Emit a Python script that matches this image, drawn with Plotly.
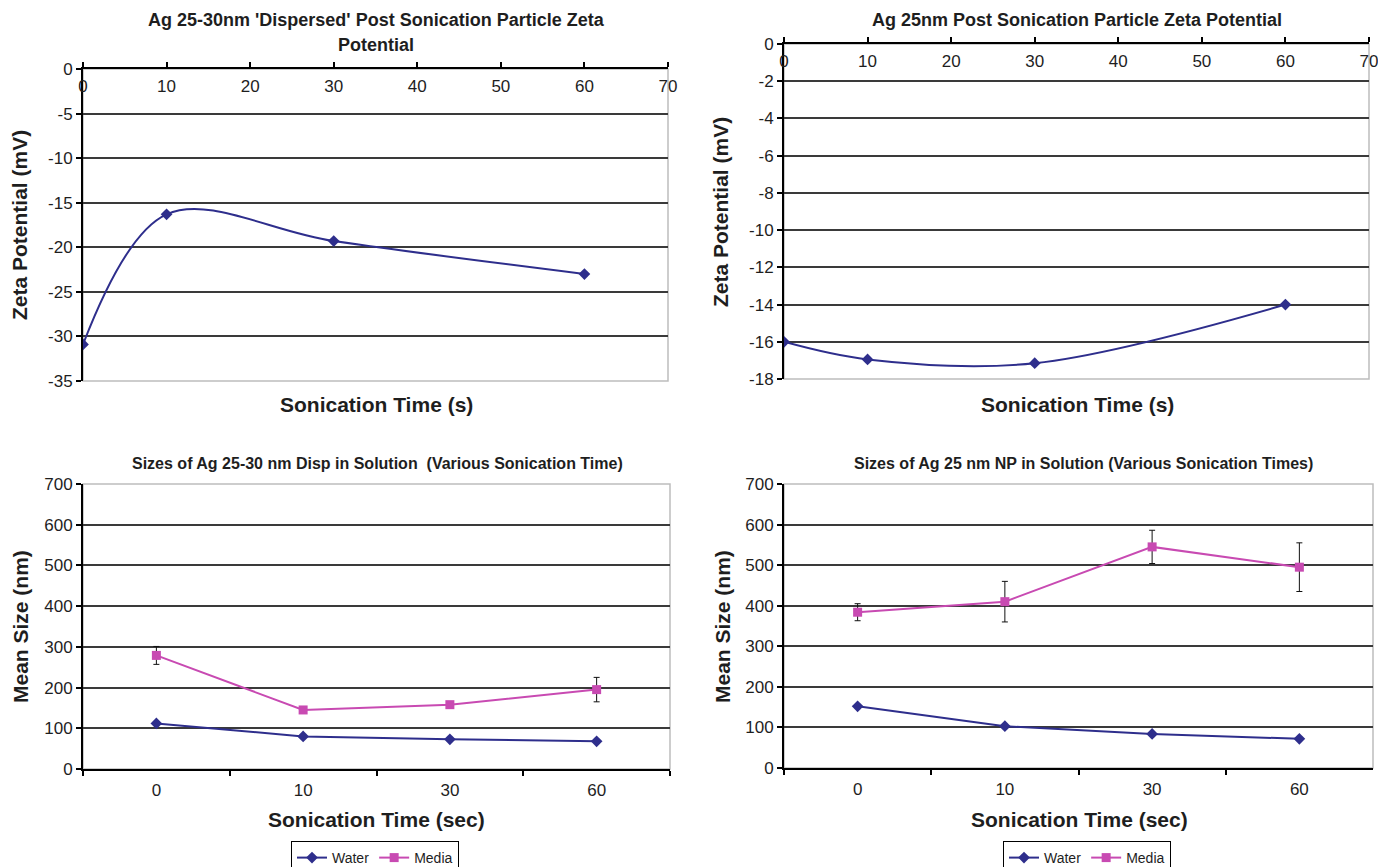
import plotly.graph_objects as go

# ---------------- data ----------------
zeta_time = [0, 10, 30, 60]
zeta_disp = [-30.9, -16.3, -19.3, -23.0]
zeta_25nm = [-16.0, -16.95, -17.15, -14.0]

zeta_disp_ticks = [0, -5, -10, -15, -20, -25, -30, -35]
zeta_25nm_ticks = [0, -2, -4, -6, -8, -10, -12, -14, -16, -18]

size_cats = ["0", "10", "30", "60"]
disp_water = [112, 80, 73, 68]
disp_media = [279, 145, 158, 195]
disp_media_err = [22, 7, 7, 30]
np_water = [152, 103, 84, 72]
np_media = [384, 410, 545, 495]
np_media_err = [21, 50, 41, 60]

W, H = 1378, 867
NAVY = "#2E2E8C"
MAG = "#C84AB2"
GRID = "#3a3a3a"
FONT = "Liberation Sans, Arial, sans-serif"
TXT = "#1e1e1e"


def dx(a, b):
    return [a / W, b / W]


def dy(top, bottom):
    return [1 - bottom / H, 1 - top / H]


fig = go.Figure()

fig.add_trace(go.Scatter(x=zeta_time, y=zeta_disp, mode="lines+markers",
                         line=dict(color=NAVY, width=2, shape="spline", smoothing=1.0),
                         marker=dict(symbol="diamond", size=9, color=NAVY),
                         xaxis="x", yaxis="y", showlegend=False))
fig.add_trace(go.Scatter(x=zeta_time, y=zeta_25nm, mode="lines+markers",
                         line=dict(color=NAVY, width=2, shape="spline", smoothing=1.0),
                         marker=dict(symbol="diamond", size=9, color=NAVY),
                         xaxis="x2", yaxis="y2", showlegend=False))
fig.add_trace(go.Scatter(x=size_cats, y=disp_water, mode="lines+markers", name="Water",
                         line=dict(color=NAVY, width=2),
                         marker=dict(symbol="diamond", size=9, color=NAVY),
                         xaxis="x3", yaxis="y3", legend="legend"))
fig.add_trace(go.Scatter(x=size_cats, y=disp_media, mode="lines+markers", name="Media",
                         line=dict(color=MAG, width=2),
                         marker=dict(symbol="square", size=9, color=MAG),
                         error_y=dict(type="data", array=disp_media_err, color="#111", thickness=1, width=3),
                         xaxis="x3", yaxis="y3", legend="legend"))
fig.add_trace(go.Scatter(x=size_cats, y=np_water, mode="lines+markers", name="Water",
                         line=dict(color=NAVY, width=2),
                         marker=dict(symbol="diamond", size=9, color=NAVY),
                         xaxis="x4", yaxis="y4", legend="legend2"))
fig.add_trace(go.Scatter(x=size_cats, y=np_media, mode="lines+markers", name="Media",
                         line=dict(color=MAG, width=2),
                         marker=dict(symbol="square", size=9, color=MAG),
                         error_y=dict(type="data", array=np_media_err, color="#111", thickness=1, width=3),
                         xaxis="x4", yaxis="y4", legend="legend2"))

tickfont = dict(family=FONT, size=17, color=TXT)

zeta_x = dict(range=[0, 70], dtick=10, side="top", ticks="outside", ticklen=5, tickwidth=1.5,
              tickcolor="black", ticklabelposition="inside", ticklabeloverflow="allow",
              ticklabelstandoff=12,
              showline=True, linecolor="black", linewidth=2, showgrid=False, zeroline=False,
              tickfont=tickfont)
zeta_y = dict(ticks="outside", ticklen=5, tickwidth=1.5, tickcolor="black", showline=True,
              linecolor="black", linewidth=2, showgrid=True, gridcolor=GRID, gridwidth=1.5,
              zeroline=False, tickfont=tickfont, tickmode="array")
size_x = dict(type="category", range=[-0.5, 3.5], tickson="boundaries", ticks="outside",
              ticklen=5, tickwidth=1.5, tickcolor="black", showline=True, linecolor="black",
              linewidth=2, showgrid=False, zeroline=False, tickfont=tickfont, ticklabelstandoff=5)
size_y = dict(range=[0, 700], dtick=100, ticks="outside", ticklen=5, tickwidth=1.5,
              tickcolor="black", showline=True, linecolor="black", linewidth=2, showgrid=True,
              gridcolor=GRID, gridwidth=1.5, zeroline=False, tickfont=tickfont)

legend_common = dict(orientation="h", y=1 - 841 / H, yanchor="top", bordercolor="black", borderwidth=1,
                     font=dict(family=FONT, size=14, color=TXT), itemwidth=30, tracegroupgap=0)

fig.update_layout(
    width=W, height=H, margin=dict(l=0, r=0, t=0, b=0, autoexpand=False),
    paper_bgcolor="white", plot_bgcolor="white",
    xaxis=dict(domain=dx(83, 668), anchor="y", **zeta_x),
    yaxis=dict(domain=dy(69, 381), anchor="x", range=[-35, 0],
               tickvals=zeta_disp_ticks, ticktext=[str(v) for v in zeta_disp_ticks], **zeta_y),
    xaxis2=dict(domain=dx(784, 1369), anchor="y2", **zeta_x),
    yaxis2=dict(domain=dy(44, 379), anchor="x2", range=[-18, 0],
                tickvals=zeta_25nm_ticks, ticktext=[str(v) for v in zeta_25nm_ticks], **zeta_y),
    xaxis3=dict(domain=dx(83, 670), anchor="y3", **size_x),
    yaxis3=dict(domain=dy(484, 769), anchor="x3", **size_y),
    xaxis4=dict(domain=dx(784, 1373), anchor="y4", **size_x),
    yaxis4=dict(domain=dy(484, 768), anchor="x4", **size_y),
    legend=dict(x=375 / W, xanchor="center", **legend_common),
    legend2=dict(x=1087 / W, xanchor="center", **legend_common),
    showlegend=True,
)

for ax in ["", "2", "3", "4"]:
    fig.add_shape(type="rect", xref=f"x{ax} domain", yref=f"y{ax} domain", x0=0, x1=1, y0=0, y1=1,
                  line=dict(color="#bdbdbd", width=1.5), layer="below")

ann = []


def txt(x, y, text, size, angle=0):
    ann.append(dict(x=x / W, y=1 - y / H, xref="paper", yref="paper", text=f"<b>{text}</b>",
                    showarrow=False, textangle=angle, xanchor="center", yanchor="middle",
                    font=dict(family=FONT, size=size, color=TXT)))


# titles
txt(376, 20, "Ag 25-30nm 'Dispersed' Post Sonication Particle Zeta", 18)
txt(376, 45, "Potential", 18)
txt(1077, 20, "Ag 25nm Post Sonication Particle Zeta Potential", 18)
txt(377, 463, "Sizes of Ag 25-30 nm Disp in Solution  (Various Sonication Time)", 16)
txt(1083, 463, "Sizes of Ag 25 nm NP in Solution (Various Sonication Times)", 16)
# axis titles
txt(376, 404, "Sonication Time (s)", 21)
txt(1077, 404, "Sonication Time (s)", 21)
txt(376, 819, "Sonication Time (sec)", 21)
txt(1079, 819, "Sonication Time (sec)", 21)
txt(20, 225, "Zeta Potential (mV)", 21, angle=-90)
txt(720, 212, "Zeta Potential (mV)", 21, angle=-90)
txt(20, 627, "Mean Size (nm)", 21, angle=-90)
txt(722, 627, "Mean Size (nm)", 21, angle=-90)
fig.update_layout(annotations=ann)

fig.write_html("out.html")
